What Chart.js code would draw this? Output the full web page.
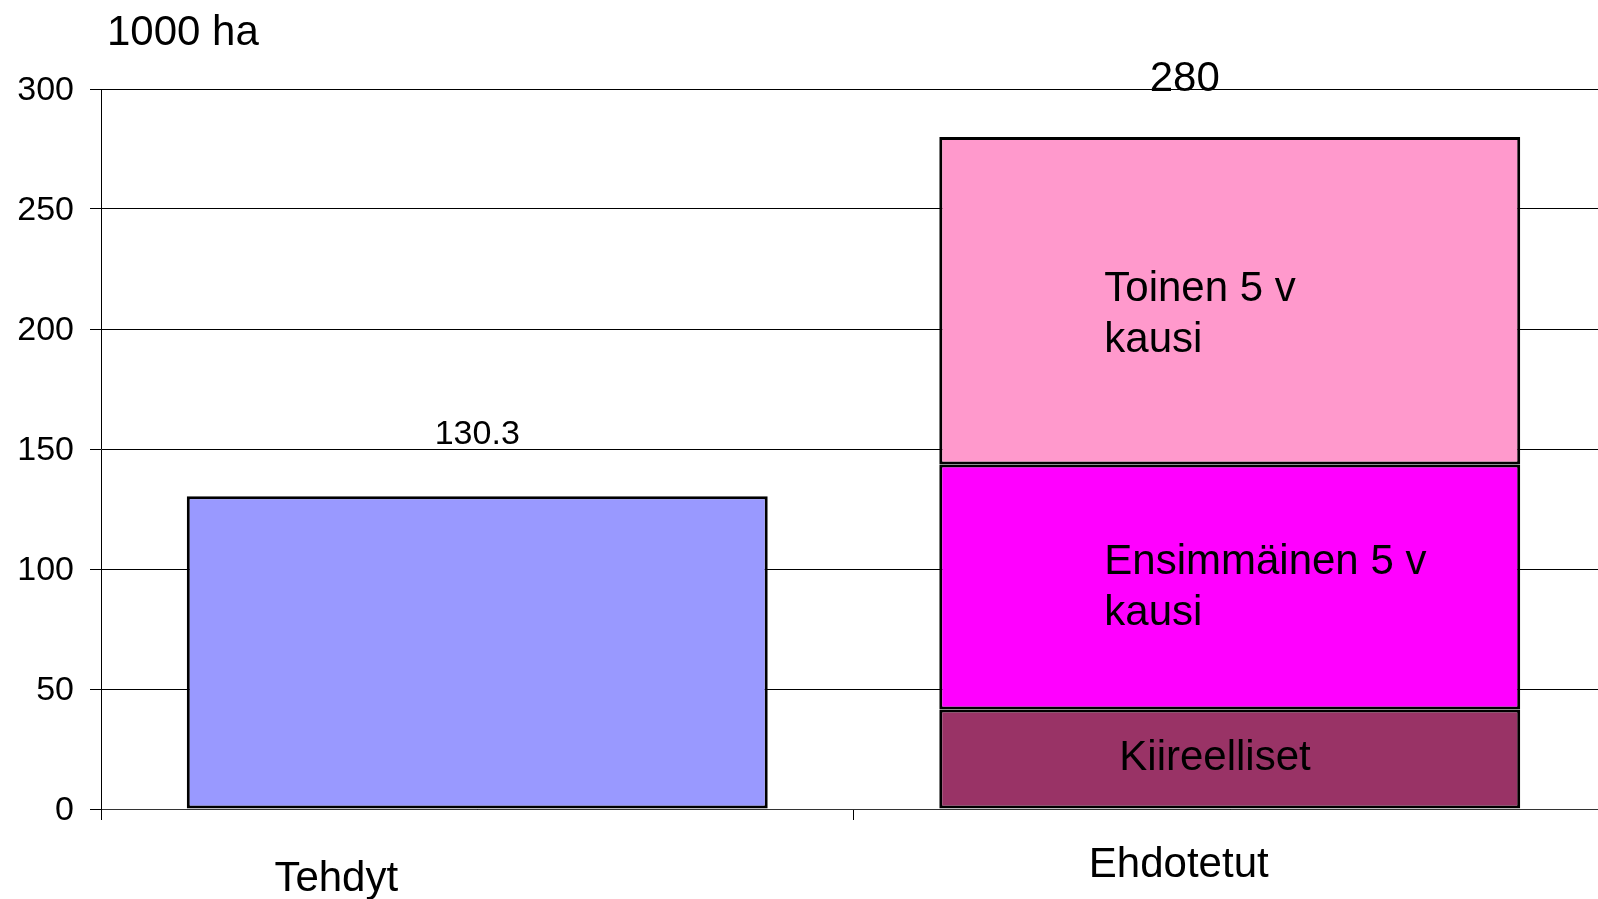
<!DOCTYPE html>
<html>
<head>
<meta charset="utf-8">
<script src="https://cdn.jsdelivr.net/npm/chart.js@4/dist/chart.umd.min.js"></script>
<style>
  body { margin: 0; overflow: hidden; background: #fff; }
  #wrap { width: 1612px; height: 899px; }
</style>
</head>
<body>
<div id="wrap"><canvas id="area-chart"></canvas></div>
<script>
// data
const categories = ["Tehdyt", "Ehdotetut"];
const tehdyt = [130.3, null];
const kiireelliset = [null, 41.5];
const ensimmainen = [null, 102];
const toinen = [null, 136.5];
const yTicks = [0, 50, 100, 150, 200, 250, 300];
const segmentNames = [["Kiireelliset"], ["Ensimmäinen 5 v", "kausi"], ["Toinen 5 v", "kausi"]];
const unitLabel = "1000 ha";

const FONT = '"Liberation Sans", Arial, sans-serif';

// text placement tweaks (not data)
const catLabelPos = [{ dx: -141, y: 879 }, { dx: -51, y: 865 }];
const totalDx = [0, -45];
const totalDy = [-62, -58];
const segLabelDx = [180, 165, 165];
const segLabelDy = [-1, 1, 14];

const chartEl = document.getElementById("area-chart");

// labels drawn on top of the bars
const textPlugin = {
  id: "texts",
  afterDatasetsDraw(chart) {
    const ctx = chart.ctx;
    const x = chart.scales.x;
    ctx.save();
    ctx.fillStyle = "#000";
    ctx.textBaseline = "middle";

    ctx.font = "42px " + FONT;
    ctx.textAlign = "left";
    ctx.fillText(unitLabel, 107, 33);

    // category labels
    ctx.textAlign = "center";
    categories.forEach((c, i) => {
      ctx.fillText(c, x.getPixelForValue(i) + catLabelPos[i].dx, catLabelPos[i].y);
    });

    // totals above the bars
    categories.forEach((c, i) => {
      let total = 0;
      let topEl = null;
      chart.data.datasets.forEach((ds, di) => {
        const v = ds.data[i];
        if (v != null) {
          total += v;
          topEl = chart.getDatasetMeta(di).data[i];
        }
      });
      const txt = Number.isInteger(total) ? String(total) : total.toFixed(1);
      ctx.font = (i === 0 ? "34px " : "42px ") + FONT;
      ctx.fillText(txt, topEl.x + totalDx[i], topEl.y + totalDy[i]);
    });

    // segment names inside the stacked bar
    ctx.font = "42px " + FONT;
    ctx.textAlign = "left";
    for (let s = 0; s < segmentNames.length; s++) {
      const el = chart.getDatasetMeta(s + 1).data[1];
      const left = el.x - el.width / 2;
      const mid = (el.y + el.base) / 2 + segLabelDy[s];
      const lines = segmentNames[s];
      const lh = 51;
      lines.forEach((line, li) => {
        ctx.fillText(line, left + segLabelDx[s], mid + (li - (lines.length - 1) / 2) * lh);
      });
    }
    ctx.restore();
  },
};

function barSet(label, data, color) {
  return {
    label: label,
    data: data,
    backgroundColor: color,
    borderColor: "#000",
    borderWidth: 3,
    borderSkipped: false,
    categoryPercentage: 1,
    barPercentage: 0.772,
  };
}

const stackChart = new Chart(chartEl, {
  type: "bar",
  data: {
    labels: categories,
    datasets: [
      barSet("Tehdyt", tehdyt, "#9999FF"),
      barSet("Kiireelliset", kiireelliset, "#993366"),
      barSet("Ensimmäinen 5 v kausi", ensimmainen, "#FF00FF"),
      barSet("Toinen 5 v kausi", toinen, "#FF99CC"),
    ],
  },
  options: {
    responsive: true,
    maintainAspectRatio: false,
    animation: false,
    layout: { padding: { top: 89, right: 6, left: 0, bottom: 0 } },
    plugins: {
      legend: { display: false },
      tooltip: { enabled: false },
    },
    scales: {
      x: {
        stacked: true,
        afterFit(scale) { scale.height = 90; },
        ticks: { display: false },
        grid: {
          offset: true,
          drawOnChartArea: false,
          tickLength: 11,
          color: "#000",
        },
        border: { display: true, color: "#333", width: 1 },
      },
      y: {
        stacked: true,
        min: 0,
        max: 300,
        afterFit(scale) { scale.width = 101; },
        afterBuildTicks(scale) { scale.ticks = yTicks.map((v) => ({ value: v })); },
        ticks: {
          padding: 16,
          labelOffset: 2,
          color: "#000",
          font: { family: FONT, size: 34 },
        },
        grid: { color: "#000", lineWidth: 1, tickLength: 11 },
        border: { display: true, color: "#000", width: 1 },
      },
    },
  },
  plugins: [textPlugin],
});
</script>
</body>
</html>
